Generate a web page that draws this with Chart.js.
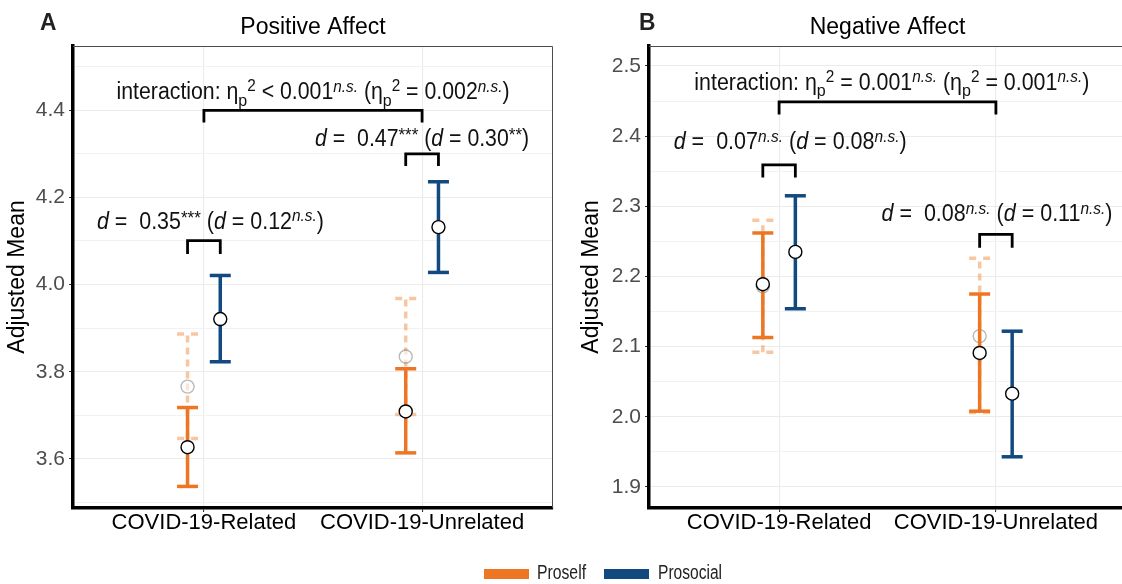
<!DOCTYPE html>
<html><head><meta charset="utf-8">
<script src="https://cdn.jsdelivr.net/npm/chart.js@4.4.0/dist/chart.umd.min.js"></script>
<style>
html,body{margin:0;padding:0;background:#fff;width:1122px;height:584px;overflow:hidden;position:relative}
canvas{position:absolute;top:0}
#cA{left:0}
#cB{left:574px}
</style></head><body>
<canvas id="cA" width="1122" height="584"></canvas>
<canvas id="cB" width="566" height="584"></canvas>
<script>
// ---------------- data ----------------
const categories = ['COVID-19-Related', 'COVID-19-Unrelated'];
const seriesNames = ['Proself', 'Prosocial'];

const yTicksA = [3.6, 3.8, 4.0, 4.2, 4.4];
const yMinorA = [3.5, 3.7, 3.9, 4.1, 4.3, 4.5];
const yRangeA = [3.4875, 4.5475];
const yTicksB = [1.9, 2.0, 2.1, 2.2, 2.3, 2.4, 2.5];
const yMinorB = [1.95, 2.05, 2.15, 2.25, 2.35, 2.45];
const yRangeB = [1.870, 2.5285];

// Panel A - Positive Affect
const aProselfMean   = [3.627, 3.709];
const aProselfLow    = [3.537, 3.614];
const aProselfHigh   = [3.718, 3.807];
const aProsocialMean = [3.921, 4.132];
const aProsocialLow  = [3.823, 4.028];
const aProsocialHigh = [4.021, 4.236];
const aProselfAltMean = [3.766, 3.835];
const aProselfAltLow  = [3.647, 3.702];
const aProselfAltHigh = [3.887, 3.968];
const aBracketTop = [4.400, 4.101, 4.300];   // interaction, related d, unrelated d
const aBracketLeg = [4.372, 4.070, 4.272];

// Panel B - Negative Affect
const bProselfMean   = [2.189, 2.091];
const bProselfLow    = [2.113, 2.008];
const bProselfHigh   = [2.262, 2.175];
const bProsocialMean = [2.235, 2.033];
const bProsocialLow  = [2.154, 1.943];
const bProsocialHigh = [2.315, 2.122];
const bProselfAltMean = [2.186, 2.115];
const bProselfAltLow  = [2.092, 2.006];
const bProselfAltHigh = [2.280, 2.226];
const bBracketTop = [2.449, 2.359, 2.260];
const bBracketLeg = [2.431, 2.341, 2.241];

// annotation labels: [text, style]
const aLabels = [
  [['interaction: \u03b7','n'],['p','sub'],['2','sup'],[' < 0.001','n'],['n.s.','supi'],[' (\u03b7','n'],['p','sub'],['2','sup'],[' = 0.002','n'],['n.s.','supi'],[')','n']],
  [['d','i'],[' =  0.35','n'],['***','ast'],[' (','n'],['d','i'],[' = 0.12','n'],['n.s.','supi'],[')','n']],
  [['d','i'],[' =  0.47','n'],['***','ast'],[' (','n'],['d','i'],[' = 0.30','n'],['**','ast'],[')','n']]
];
const aLabelX = [1.5, 1.03, 2.0];
const aLabelY = [4.425, 4.128, 4.319];
const bLabels = [
  [['interaction: \u03b7','n'],['p','sub'],['2','sup'],[' = 0.001','n'],['n.s.','supi'],[' (\u03b7','n'],['p','sub'],['2','sup'],[' = 0.001','n'],['n.s.','supi'],[')','n']],
  [['d','i'],[' =  0.07','n'],['n.s.','supi'],[' (','n'],['d','i'],[' = 0.08','n'],['n.s.','supi'],[')','n']],
  [['d','i'],[' =  0.08','n'],['n.s.','supi'],[' (','n'],['d','i'],[' = 0.11','n'],['n.s.','supi'],[')','n']]
];
const bLabelX = [1.52, 1.051, 2.005];
const bLabelY = [2.4658, 2.381, 2.2786];

// ---------------- styles ----------------
const FONT = '"Liberation Sans", Arial, sans-serif';
const ORANGE = '#ED7624';
const BLUE = '#124A80';
const ORANGE_FADED = 'rgba(237,118,36,0.42)';
const DODGE = 0.075;

function richText(ctx, segs, cx, by, size, targetW, color) {
  const st = {n:{s:1,dy:0,it:false}, i:{s:1,dy:0,it:true},
    sup:{s:0.72,dy:-0.36,it:false}, supi:{s:0.72,dy:-0.34,it:true}, ast:{s:0.8,dy:-0.2,it:false},
    sub:{s:0.75,dy:0.28,it:false}};
  ctx.save();
  let w = 0;
  const parts = segs.map(([t,k]) => { const o = st[k]; const f = (o.it?'italic ':'') + (size*o.s) + 'px ' + FONT;
    ctx.font = f; const m = ctx.measureText(t).width; w += m; return {t, o, m, f}; });
  const sx = targetW ? targetW / w : 1;
  ctx.translate(cx, by); ctx.scale(sx, 1);
  ctx.fillStyle = color; ctx.textBaseline = 'alphabetic'; ctx.textAlign = 'left';
  let x = -w / 2;
  parts.forEach(p => { ctx.font = p.f; ctx.fillText(p.t, x, p.o.dy * size); x += p.m; });
  ctx.restore();
}

function barData(low, high, off) {
  const d = [];
  low.forEach((l, i) => { if (i) d.push({x: i + 1 + off, y: null}); d.push({x: i + 1 + off, y: l}, {x: i + 1 + off, y: high[i]}); });
  return d;
}
function meanData(mean, off) { return mean.map((v, i) => ({x: i + 1 + off, y: v})); }
function bracketData(x1, x2, top, leg) { return [{x: x1, y: leg}, {x: x1, y: top}, {x: x2, y: top}, {x: x2, y: leg}]; }

const dashPts = {
  id: 'dashPts',
  beforeDatasetDraw(chart, args) { const d = chart.data.datasets[args.index]; if (d.capDash) { chart.ctx.save(); chart.ctx.setLineDash(d.capDash); } },
  afterDatasetDraw(chart, args) { const d = chart.data.datasets[args.index]; if (d.capDash) chart.ctx.restore(); }
};

function near(list, v) { return list.some(m => Math.abs(m - v) < 1e-6); }

function makeChart(id, p) {
  const ds = [];
  const bx = [[1, 2], [1 - DODGE, 1 + DODGE], [2 - DODGE, 2 + DODGE]];
  bx.forEach((xx, k) => ds.push({data: bracketData(xx[0], xx[1], p.bTop[k], p.bLeg[k]), showLine: true,
    borderColor: '#000', borderWidth: 2.8, pointRadius: 0, order: 5, borderCapStyle: 'butt', borderJoinStyle: 'miter'}));
  ds.push({data: barData(p.altLow, p.altHigh, -DODGE), showLine: true, spanGaps: false, borderColor: ORANGE_FADED,
    borderWidth: 3.5, borderDash: [7, 5], pointStyle: 'line', pointRadius: 10.5, pointBorderColor: ORANGE_FADED,
    pointBorderWidth: 3.5, capDash: [7, 7], order: 4});
  ds.push({data: meanData(p.altMean, -DODGE), showLine: false, pointRadius: 6.5, pointBackgroundColor: 'rgba(255,255,255,0.55)',
    pointBorderColor: 'rgba(0,0,0,0.28)', pointBorderWidth: 1.4, order: 3});
  ds.push({label: seriesNames[0], data: barData(p.pLow, p.pHigh, -DODGE), showLine: true, spanGaps: false, borderColor: ORANGE,
    borderWidth: 3.5, pointStyle: 'line', pointRadius: 10.5, pointBorderColor: ORANGE, pointBorderWidth: 3.5, order: 2});
  ds.push({label: seriesNames[1], data: barData(p.sLow, p.sHigh, DODGE), showLine: true, spanGaps: false, borderColor: BLUE,
    borderWidth: 3.5, pointStyle: 'line', pointRadius: 10.5, pointBorderColor: BLUE, pointBorderWidth: 3.5, order: 2});
  [[p.pMean, -DODGE], [p.sMean, DODGE]].forEach(([m, o]) => ds.push({data: meanData(m, o), showLine: false, pointRadius: 6.5,
    pointBackgroundColor: '#fff', pointBorderColor: '#000', pointBorderWidth: 1.4, order: 0}));

  const deco = {
    id: 'deco',
    beforeDatasetsDraw(chart) {
      const {ctx, chartArea: a} = chart;
      ctx.save(); ctx.strokeStyle = '#4d4d4d'; ctx.lineWidth = 1;
      ctx.beginPath(); ctx.moveTo(a.left, a.top + 0.5); ctx.lineTo(a.right - 0.5, a.top + 0.5); ctx.lineTo(a.right - 0.5, a.bottom); ctx.stroke();
      ctx.restore();
    },
    afterDraw(chart) {
      const {ctx, chartArea: a, scales} = chart;
      p.labels.forEach((segs, k) => richText(ctx, segs, scales.x.getPixelForValue(p.lx[k]), scales.y.getPixelForValue(p.ly[k]), 23, p.lw[k], '#111'));
      ctx.save();
      ctx.fillStyle = '#222'; ctx.font = 'bold 24px ' + FONT; ctx.textAlign = 'left'; ctx.textBaseline = 'alphabetic';
      ctx.save(); ctx.translate(p.letterX, 30); ctx.scale(0.95, 1); ctx.fillText(p.letter, 0, 0); ctx.restore();
      ctx.fillStyle = '#000'; ctx.font = '23px ' + FONT; ctx.textAlign = 'center';
      ctx.fillText(p.title, (a.left + a.right) / 2, 34);
      ctx.restore();
      if (p.legend) {
        ctx.save();
        ctx.fillStyle = ORANGE; ctx.fillRect(484, 569, 45, 10);
        ctx.fillStyle = BLUE; ctx.fillRect(604, 569, 45, 10);
        ctx.restore();
        richText(ctx, [[seriesNames[0], 'n']], 537 + 24.5, 579, 19.5, 49, '#222');
        richText(ctx, [[seriesNames[1], 'n']], 658 + 32, 579, 19.5, 64, '#222');
      }
    }
  };

  return new Chart(document.getElementById(id), {
    type: 'scatter',
    data: {datasets: ds},
    options: {
      responsive: false, animation: false, events: [], devicePixelRatio: 1,
      layout: {padding: {left: 0, top: 46, right: p.padRight, bottom: 36}},
      plugins: {legend: {display: false}, tooltip: {enabled: false}},
      scales: {
        x: {
          type: 'linear', min: 0.4, max: 2.6,
          afterBuildTicks: s => { s.ticks = categories.map((c, i) => ({value: i + 1})); },
          afterFit: s => { s.height = 40; },
          ticks: {callback: v => categories[Math.round(v) - 1] || '', autoSkip: false, maxRotation: 0, padding: 0,
            color: '#000', font: {family: FONT, size: 22, lineHeight: 1}},
          grid: {color: '#ebebeb', lineWidth: 1.1, tickLength: 4, tickColor: '#333'},
          border: {display: true, color: '#000', width: 3.5}
        },
        y: {
          type: 'linear', min: p.yRange[0], max: p.yRange[1],
          afterBuildTicks: s => { s.ticks = p.yMajor.concat(p.yMinor).sort((a, b) => a - b).map(v => ({value: v})); },
          afterFit: s => { s.width = p.axisW; },
          ticks: {callback: v => near(p.yMajor, v) ? v.toFixed(1) : '', autoSkip: false, padding: 4,
            color: '#4d4d4d', font: {family: FONT, size: 21}},
          grid: {color: c => near(p.yMajor, c.tick.value) ? '#ebebeb' : '#f2f2f2', lineWidth: 1.1, tickLength: 4,
            tickColor: c => near(p.yMajor, c.tick.value) ? '#333' : 'rgba(0,0,0,0)'},
          border: {display: true, color: '#000', width: 3.5},
          title: {display: true, text: 'Adjusted Mean', color: '#000', font: {family: FONT, size: 23}, padding: {top: 4, bottom: 0}}
        }
      }
    },
    plugins: [dashPts, deco]
  });
}

makeChart('cA', {
  pMean: aProselfMean, pLow: aProselfLow, pHigh: aProselfHigh,
  sMean: aProsocialMean, sLow: aProsocialLow, sHigh: aProsocialHigh,
  altMean: aProselfAltMean, altLow: aProselfAltLow, altHigh: aProselfAltHigh,
  bTop: aBracketTop, bLeg: aBracketLeg,
  labels: aLabels, lx: aLabelX, ly: aLabelY, lw: [393, 227, 214],
  yMajor: yTicksA, yMinor: yMinorA, yRange: yRangeA,
  axisW: 73, padRight: 1122 - 553, letter: 'A', letterX: 40, title: 'Positive Affect', legend: true
});
makeChart('cB', {
  pMean: bProselfMean, pLow: bProselfLow, pHigh: bProselfHigh,
  sMean: bProsocialMean, sLow: bProsocialLow, sHigh: bProsocialHigh,
  altMean: bProselfAltMean, altLow: bProselfAltLow, altHigh: bProselfAltHigh,
  bTop: bBracketTop, bLeg: bBracketLeg,
  labels: bLabels, lx: bLabelX, ly: bLabelY, lw: [395, 233, 231],
  yMajor: yTicksB, yMinor: yMinorB, yRange: yRangeB,
  axisW: 75, padRight: 12, letter: 'B', letterX: 65, title: 'Negative Affect', legend: false
});
</script>
</body></html>
